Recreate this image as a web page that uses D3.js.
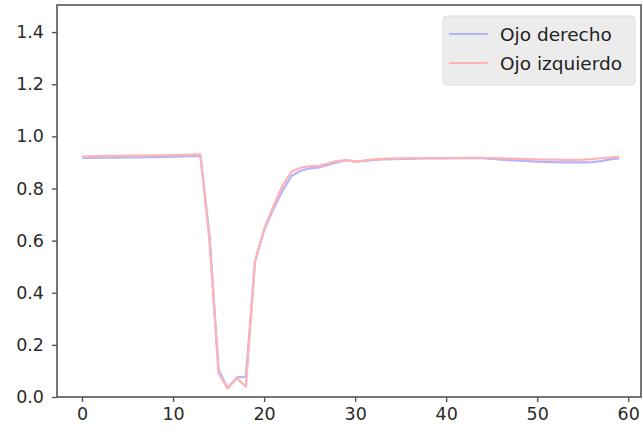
<!DOCTYPE html>
<html><head><meta charset="utf-8">
<script src="https://cdn.jsdelivr.net/npm/d3@7"></script>
<style>html,body{margin:0;padding:0;background:#fff;}svg{display:block;}</style>
</head><body>
<svg id="c" width="643" height="433"></svg>
<script>
const frames = d3.range(0, 60);
const rightEye = [0.917,0.917,0.918,0.918,0.918,0.919,0.919,0.92,0.92,0.921,0.922,0.923,0.924,0.925,
  0.62,0.105,0.035,0.075,0.078,0.52,0.64,0.72,0.79,0.848,0.868,0.877,0.881,0.89,0.9,0.909,
  0.903,0.906,0.91,0.912,0.913,0.914,0.914,0.915,0.915,0.915,0.915,0.916,0.916,0.916,0.916,
  0.914,0.911,0.909,0.907,0.905,0.903,0.902,0.901,0.9,0.9,0.9,0.901,0.905,0.912,0.915];
const leftEye = [0.922,0.923,0.924,0.925,0.925,0.926,0.926,0.926,0.927,0.927,0.928,0.929,0.93,0.931,
  0.6,0.09,0.033,0.072,0.04,0.52,0.645,0.73,0.81,0.864,0.88,0.886,0.887,0.896,0.905,0.909,
  0.904,0.907,0.912,0.914,0.915,0.916,0.916,0.916,0.917,0.917,0.917,0.917,0.918,0.918,0.918,
  0.917,0.916,0.915,0.914,0.913,0.912,0.911,0.911,0.91,0.91,0.911,0.913,0.916,0.919,0.921];
const xTicks = [0,10,20,30,40,50,60];
const yTicks = [0,0.2,0.4,0.6,0.8,1.0,1.2,1.4];
const seriesNames = ["Ojo derecho","Ojo izquierdo"];
const seriesColors = ["#b3b3ff","#ffb3b3"];

const L=57, R=641, T=5, B=397;
const x = d3.scaleLinear().domain([-2.75, 61.4]).range([L, R]);
const y = d3.scaleLinear().domain([0, 1.504]).range([B, T]);
const svg = d3.select("#c");
const font = "DejaVu Sans, sans-serif";

const line = d3.line().x((d,i)=>x(frames[i])).y(d=>y(d));
[rightEye, leftEye].forEach((s,k)=>{
  svg.append("path").attr("d", line(s)).attr("fill","none")
    .attr("stroke", seriesColors[k]).attr("stroke-width",2.2).attr("stroke-linejoin","round");
});

const xa = svg.append("g").attr("transform",`translate(0,${B})`)
  .call(d3.axisBottom(x).tickValues(xTicks).tickSize(5).tickPadding(6).tickFormat(d3.format("d")));
const ya = svg.append("g").attr("transform",`translate(${L},0)`)
  .call(d3.axisLeft(y).tickValues(yTicks).tickSize(5).tickPadding(8).tickFormat(d3.format(".1f")));
[xa, ya].forEach(a=>{
  a.select(".domain").remove();
  a.selectAll("line").attr("stroke","#555").attr("stroke-width",1.4);
  a.selectAll("text").attr("fill","#2a2a2a").style("font-family",font).style("font-size","17.5px");
});

svg.append("rect").attr("x",L).attr("y",T).attr("width",R-L).attr("height",B-T)
  .attr("fill","none").attr("stroke","#555").attr("stroke-width",1.6);

const lg = svg.append("g");
lg.append("rect").attr("x",443).attr("y",16).attr("width",192).attr("height",69).attr("rx",4)
  .attr("fill","#ececec").attr("stroke","#dcdcdc").attr("stroke-width",1);
seriesNames.forEach((n,k)=>{
  const yy = 34 + k*29;
  lg.append("line").attr("x1",449).attr("x2",488).attr("y1",yy).attr("y2",yy)
    .attr("stroke",seriesColors[k]).attr("stroke-width",2);
  lg.append("text").attr("x",500).attr("y",yy+6.5).text(n).attr("fill","#222")
    .style("font-family",font).style("font-size","18.5px");
});
</script>
</body></html>
